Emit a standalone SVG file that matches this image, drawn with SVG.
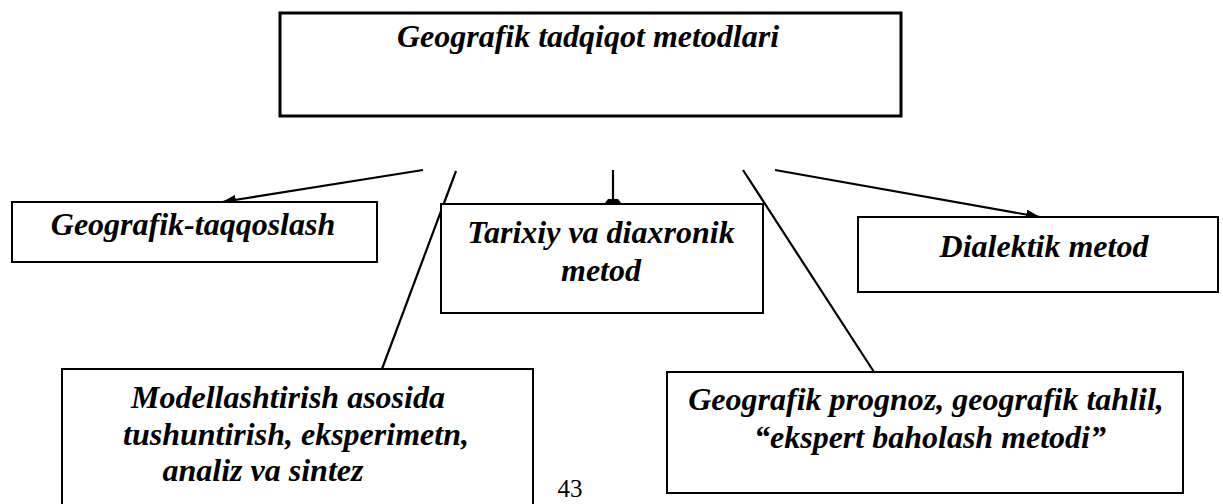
<svg xmlns="http://www.w3.org/2000/svg" width="1223" height="504" viewBox="0 0 1223 504">
<style>
.box{fill:#fff;stroke:#000;stroke-width:2}
.t{font-family:"Liberation Serif","Times New Roman",serif;font-style:italic;font-weight:bold;font-size:32px;fill:#000;text-anchor:middle}
.c{stroke:#000;stroke-width:2.2;fill:none}
.pg{font-family:"Liberation Serif","Times New Roman",serif;font-size:25px;fill:#000;text-anchor:middle}
</style>
<defs>
<marker id="ah" viewBox="0 0 14 10" refX="14" refY="5" markerWidth="14" markerHeight="10" markerUnits="userSpaceOnUse" orient="auto">
<path d="M0,0 L14,5 L0,10 Z" fill="#000"/>
</marker>
<marker id="ab" viewBox="0 0 4 16" refX="4" refY="8" markerWidth="4" markerHeight="16" markerUnits="userSpaceOnUse" orient="auto">
<path d="M0,3 L4,0 L4,16 L0,13 Z" fill="#000"/>
</marker>
</defs>
<g id="connectors">
<line class="c" x1="423" y1="170" x2="222" y2="202" marker-end="url(#ah)"/>
<line class="c" x1="613" y1="170" x2="613" y2="203" marker-end="url(#ab)"/>
<line class="c" x1="775" y1="170" x2="1040" y2="217" marker-end="url(#ah)"/>
<line class="c" x1="456" y1="171" x2="382" y2="369"/>
<line class="c" x1="743" y1="170" x2="874" y2="372"/>
</g>
<g id="n-top">
<rect class="box" x="280" y="13" width="621" height="103" style="stroke-width:3"/>
<text class="t" x="588" y="47">Geografik tadqiqot metodlari</text>
</g>
<g id="n-taqqoslash">
<rect class="box" x="12" y="202" width="365" height="60"/>
<text class="t" x="193" y="235">Geografik-taqqoslash</text>
</g>
<g id="n-tarixiy">
<rect class="box" x="441" y="204" width="322" height="109"/>
<text class="t" x="601" y="243">Tarixiy va diaxronik</text>
<text class="t" x="601" y="281">metod</text>
</g>
<g id="n-dialektik">
<rect class="box" x="858" y="217" width="360" height="75"/>
<text class="t" x="1044" y="257">Dialektik metod</text>
</g>
<g id="n-model">
<rect class="box" x="62" y="369" width="471" height="150"/>
<text class="t" x="288" y="408">Modellashtirish asosida</text>
<text class="t" x="296" y="445">tushuntirish, eksperimetn,</text>
<text class="t" x="263" y="481">analiz va sintez</text>
</g>
<g id="n-prognoz">
<rect class="box" x="667" y="372" width="516" height="121"/>
<text class="t" x="926" y="410">Geografik prognoz, geografik tahlil,</text>
<text class="t" x="930" y="448">“ekspert baholash metodi”</text>
</g>
<text class="pg" x="570" y="497">43</text>
</svg>
